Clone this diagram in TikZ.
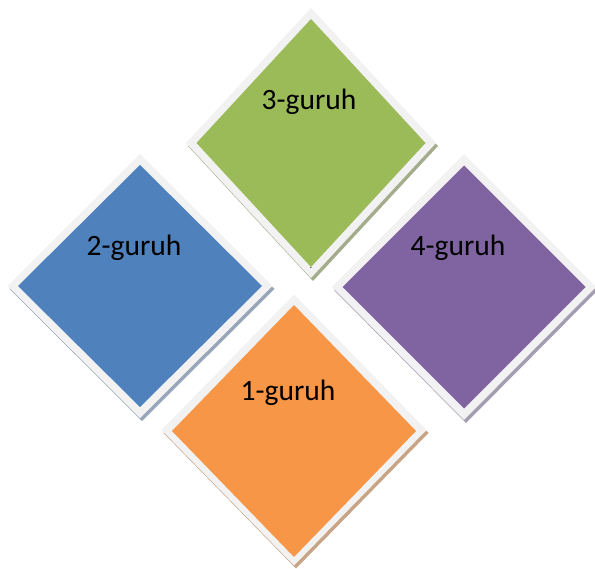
\documentclass[tikz,border=0pt]{standalone}
\usepackage{fontspec}
\setmainfont{Carlito}
\usetikzlibrary{shapes.geometric}

\definecolor{rimgray}{HTML}{F2F2F2}
\definecolor{tgreen}{HTML}{9BBB59}
\definecolor{tblue}{HTML}{4F81BD}
\definecolor{tpurple}{HTML}{8064A2}
\definecolor{torange}{HTML}{F79646}
\definecolor{sgreen}{HTML}{A3AD8C}
\definecolor{sblue}{HTML}{98A6B9}
\definecolor{spurple}{HTML}{A49CB0}
\definecolor{sorange}{HTML}{C8A487}

\tikzset{
  tile/.style={diamond, draw=none, inner sep=0pt, outer sep=0pt},
  rim/.style={tile, fill=rimgray},
  tag/.style={font=\fontsize{29.5}{35}\selectfont, inner sep=0pt}
}

\begin{document}
\begin{tikzpicture}[x=1pt, y=-1pt]
        \useasboundingbox (0,0) rectangle (595,569);

        % 3-guruh
        \node[tile, fill=sgreen, minimum width=250pt, minimum height=270pt] (g3s) at (313,146) {};
        \node[rim, minimum width=250pt, minimum height=270pt] (g3r) at (311,143) {};
        \node[tile, fill=tgreen, minimum width=229pt, minimum height=248pt] (g3) at (311,143) {};
        \node[tag] (t3) at (309,102) {3-guruh};

        % 2-guruh
        \node[tile, fill=sblue, minimum width=265pt, minimum height=264pt] (g2s) at (142,289) {};
        \node[rim, minimum width=265pt, minimum height=264pt] (g2r) at (140,286) {};
        \node[tile, fill=tblue, minimum width=244pt, minimum height=242pt] (g2) at (140,286) {};
        \node[tag] (t2) at (134,248) {2-guruh};

        % 4-guruh
        \node[tile, fill=spurple, minimum width=264pt, minimum height=266pt] (g4s) at (466,290) {};
        \node[rim, minimum width=264pt, minimum height=266pt] (g4r) at (464,287) {};
        \node[tile, fill=tpurple, minimum width=243pt, minimum height=243pt] (g4) at (464,287) {};
        \node[tag] (t4) at (458,248) {4-guruh};

        % 1-guruh
        \node[tile, fill=sorange, minimum width=265pt, minimum height=271pt] (g1s) at (296,433) {};
        \node[rim, minimum width=265pt, minimum height=271pt] (g1r) at (294,430) {};
        \node[tile, fill=torange, minimum width=244pt, minimum height=252pt] (g1) at (294,431) {};
        \node[tag] (t1) at (288,393) {1-guruh};

        \node[font=\small, anchor=base, inner sep=0pt] (dot) at (311,269) {.};
    \end{tikzpicture}
\end{document}
